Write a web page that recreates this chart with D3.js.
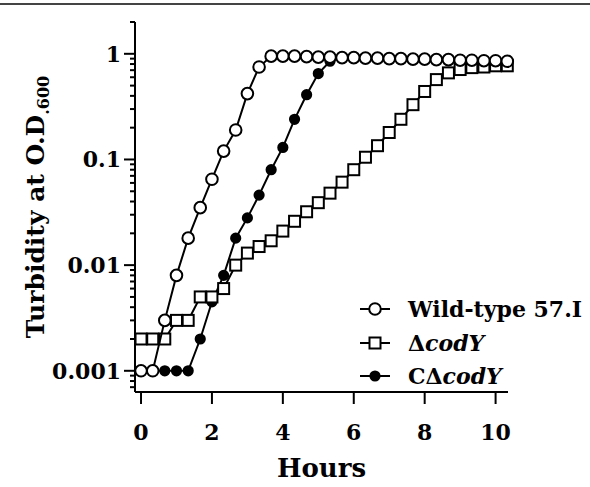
<!DOCTYPE html>
<html>
<head>
<meta charset="utf-8">
<script src="https://cdn.jsdelivr.net/npm/d3@7"></script>
<style>
  body { margin: 0; background: #fff; }
  svg { display: block; font-family: "DejaVu Serif", serif; font-weight: bold; }
</style>
</head>
<body>
<svg id="chart" width="590" height="487"></svg>
<script>
const hours = [0, 0.33, 0.67, 1, 1.33, 1.67, 2, 2.33, 2.67, 3, 3.33, 3.67, 4, 4.33, 4.67, 5,
  5.33, 5.67, 6, 6.33, 6.67, 7, 7.33, 7.67, 8, 8.33, 8.67, 9, 9.33, 9.67, 10, 10.33]

const wildType = [0.001, 0.001, 0.003, 0.008, 0.018, 0.035, 0.065, 0.12, 0.19, 0.42, 0.75, 0.95,
  0.95, 0.95, 0.94, 0.93, 0.93, 0.92, 0.92, 0.91, 0.91, 0.9, 0.9, 0.89, 0.89, 0.88, 0.88, 0.87,
  0.87, 0.86, 0.86, 0.85]

const deltaCodY = [0.002, 0.002, 0.002, 0.003, 0.003, 0.005, 0.005, 0.006, 0.01, 0.013, 0.015,
  0.017, 0.021, 0.026, 0.032, 0.039, 0.048, 0.061, 0.08, 0.105, 0.135, 0.18, 0.24, 0.33, 0.44,
  0.57, 0.66, 0.71, 0.74, 0.75, 0.77, 0.77]

// complemented strain stops at ~5.3 h
const compCodY = [0.001, 0.001, 0.001, 0.001, 0.001, 0.002, 0.0045, 0.008, 0.018, 0.028, 0.046,
  0.08, 0.13, 0.24, 0.41, 0.65, 0.85]

const xTicks = [0, 2, 4, 6, 8, 10]
const yTicks = [1, 0.1, 0.01, 0.001]
const yTickLabels = ["1", "0.1", "0.01", "0.001"]

const svg = d3.select("#chart")

const x = d3.scaleLinear().domain([-0.17, 10.35]).range([135, 508])
const y = d3.scaleLog().domain([0.00063, 2]).range([392, 22])

// rule at the top of the figure
svg.append("line")
  .attr("x1", 0).attr("x2", 590).attr("y1", 4).attr("y2", 4)
  .attr("stroke", "#444").attr("stroke-width", 2)

// y axis
svg.append("line")
  .attr("x1", x.range()[0]).attr("x2", x.range()[0])
  .attr("y1", y.range()[1]).attr("y2", y.range()[0])
  .attr("stroke", "#000").attr("stroke-width", 2)

const minor = []
yTicks.forEach(d => {
  for (let k = 2; k <= 9; k++) {
    const v = d * k
    if (v >= y.domain()[0] && v <= y.domain()[1]) minor.push(v)
  }
  for (let k = 6; k <= 9; k++) {
    const v = d * k / 10
    if (d === 0.001 && v >= y.domain()[0]) minor.push(v)
  }
})

svg.selectAll(".minor").data(minor).join("line")
  .attr("class", "minor")
  .attr("x1", x.range()[0] - 5).attr("x2", x.range()[0])
  .attr("y1", d => y(d)).attr("y2", d => y(d))
  .attr("stroke", "#000").attr("stroke-width", 2)

svg.selectAll(".major").data(yTicks).join("line")
  .attr("class", "major")
  .attr("x1", x.range()[0] - 11).attr("x2", x.range()[0])
  .attr("y1", d => y(d)).attr("y2", d => y(d))
  .attr("stroke", "#000").attr("stroke-width", 2)

svg.selectAll(".ylab").data(yTicks).join("text")
  .attr("class", "ylab")
  .attr("x", x.range()[0] - 14)
  .attr("y", d => y(d))
  .attr("dy", "0.36em")
  .attr("text-anchor", "end")
  .attr("font-size", 22)
  .text((d, i) => yTickLabels[i])

// x axis
svg.append("line")
  .attr("x1", x.range()[0]).attr("x2", x.range()[1])
  .attr("y1", y.range()[0]).attr("y2", y.range()[0])
  .attr("stroke", "#000").attr("stroke-width", 2)

svg.selectAll(".xtick").data(xTicks).join("line")
  .attr("class", "xtick")
  .attr("x1", d => x(d)).attr("x2", d => x(d))
  .attr("y1", y.range()[0]).attr("y2", y.range()[0] + 12)
  .attr("stroke", "#000").attr("stroke-width", 2)

svg.selectAll(".xlab").data(xTicks).join("text")
  .attr("class", "xlab")
  .attr("x", d => x(d))
  .attr("y", 440)
  .attr("text-anchor", "middle")
  .attr("font-size", 22)
  .text(d => d)

svg.append("text")
  .attr("x", (x.range()[0] + x.range()[1]) / 2)
  .attr("y", 477)
  .attr("text-anchor", "middle")
  .attr("font-size", 26)
  .text("Hours")

const yTitle = svg.append("text")
  .attr("transform", "translate(44,207) rotate(-90)")
  .attr("text-anchor", "middle")
  .attr("font-size", 25)
yTitle.append("tspan").text("Turbidity at O.D")
yTitle.append("tspan").attr("font-size", 16).attr("dy", 5).text(".600")

// series
const line = d3.line().x(d => x(d[0])).y(d => y(d[1]))
const pairs = vals => vals.map((v, i) => [hours[i], v])

const drawCircles = (vals, fill, r) => {
  svg.append("path").datum(pairs(vals))
    .attr("d", line).attr("fill", "none").attr("stroke", "#000").attr("stroke-width", 2)
  svg.append("g").selectAll("circle").data(pairs(vals)).join("circle")
    .attr("cx", d => x(d[0])).attr("cy", d => y(d[1])).attr("r", r)
    .attr("fill", fill).attr("stroke", "#000").attr("stroke-width", 2)
}

drawCircles(compCodY, "#000", 4.6)

svg.append("path").datum(pairs(deltaCodY))
  .attr("d", line).attr("fill", "none").attr("stroke", "#000").attr("stroke-width", 2)
svg.append("g").selectAll("rect").data(pairs(deltaCodY)).join("rect")
  .attr("x", d => x(d[0]) - 5.5).attr("y", d => y(d[1]) - 5.5)
  .attr("width", 11).attr("height", 11)
  .attr("fill", "#fff").attr("stroke", "#000").attr("stroke-width", 2)

drawCircles(wildType, "#fff", 5.8)

// legend
const legendRows = [
  { key: "wt", y: 309 },
  { key: "delta", y: 343 },
  { key: "comp", y: 376 },
]
const lx = 375
legendRows.forEach(row => {
  svg.append("line")
    .attr("x1", lx - 15).attr("x2", lx + 15).attr("y1", row.y).attr("y2", row.y)
    .attr("stroke", "#000").attr("stroke-width", 2)
  if (row.key === "delta") {
    svg.append("rect").attr("x", lx - 5.5).attr("y", row.y - 5.5).attr("width", 11).attr("height", 11)
      .attr("fill", "#fff").attr("stroke", "#000").attr("stroke-width", 2)
  } else {
    svg.append("circle").attr("cx", lx).attr("cy", row.y).attr("r", row.key === "wt" ? 5.8 : 4.6)
      .attr("fill", row.key === "wt" ? "#fff" : "#000").attr("stroke", "#000").attr("stroke-width", 2)
  }
  const t = svg.append("text").attr("x", 408).attr("y", row.y).attr("dy", "0.36em").attr("font-size", 22)
  if (row.key === "wt") t.text("Wild-type 57.I")
  if (row.key === "delta") {
    t.append("tspan").text("Δ")
    t.append("tspan").attr("font-style", "italic").text("codY")
  }
  if (row.key === "comp") {
    t.append("tspan").text("CΔ")
    t.append("tspan").attr("font-style", "italic").text("codY")
  }
})
</script>
</body>
</html>
